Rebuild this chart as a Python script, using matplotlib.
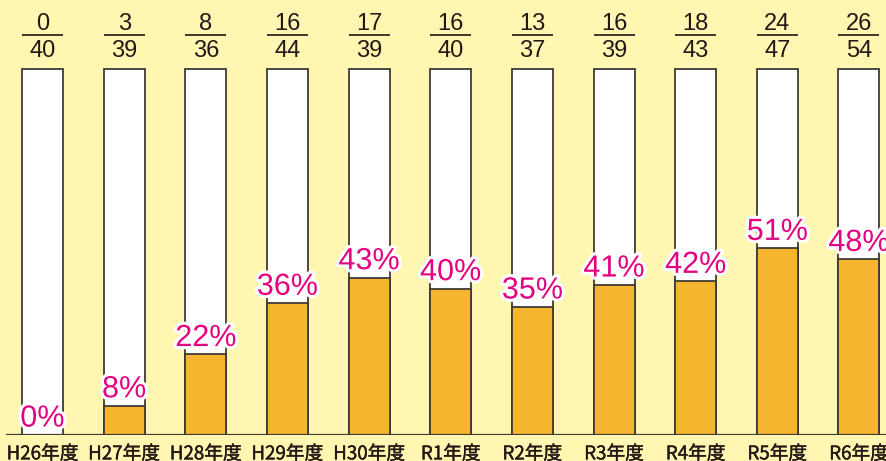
"""
Yearly ratio chart: white full-height columns, orange fill = share,
fraction (count / total) above each column.
"""
import matplotlib
matplotlib.use("Agg")
import matplotlib.pyplot as plt
import matplotlib.patheffects as pe

years = ["H26年度", "H27年度", "H28年度", "H29年度", "H30年度",
         "R1年度", "R2年度", "R3年度", "R4年度", "R5年度", "R6年度"]
numer = [0, 3, 8, 16, 17, 16, 13, 16, 18, 24, 26]
denom = [40, 39, 36, 44, 39, 40, 37, 39, 43, 47, 54]
pct = [0, 8, 22, 36, 43, 40, 35, 41, 42, 51, 48]

BG = "#fff7b1"
ORANGE = "#f6b52e"
MAGENTA = "#e4007f"
INK = "#231815"
EDGE = "#3f3a36"

W, H = 886, 461
fig = plt.figure(figsize=(W / 100, H / 100), dpi=100, facecolor=BG)
ax = fig.add_axes([0, 26 / H, 1, 435 / H])
ax.set_facecolor(BG)

x = list(range(len(years)))
bw = 0.502
ax.bar(x, [100] * len(x), width=bw, color="white", edgecolor=EDGE, lw=1.3, zorder=2)
ax.bar(x, pct, width=bw, color=ORANGE, edgecolor=EDGE, lw=1.3, zorder=3)

ax.set_xlim(-0.5205, 10.331)
ax.set_ylim(0, 118.85)
ax.axhline(0, xmin=0.008, xmax=1, color=EDGE, lw=1.6, zorder=4)

# fractions
for i, (n, d) in enumerate(zip(numer, denom)):
    ax.text(i, 112.4, str(n), ha="center", va="center", fontsize=17,
            color=INK, family="Liberation Sans")
    ax.text(i, 105.0, str(d), ha="center", va="center", fontsize=17,
            color=INK, family="Liberation Sans")
    ax.hlines(109.3, i - bw / 2, i + bw / 2, color=INK, lw=1.2)

# percent labels with white halo
for i, p in enumerate(pct):
    ax.text(i, p + 2.3, f"{p}%", ha="center", va="baseline", fontsize=22,
            color=MAGENTA, family="Liberation Sans", zorder=5,
            path_effects=[pe.withStroke(linewidth=4.5, foreground="white")])

ax.set_xticks(x)
ax.set_xticklabels(years, family=["Noto Sans CJK JP", "DejaVu Sans"],
                   fontsize=13.5, color=INK)
for t in ax.get_xticklabels():
    t.set_path_effects([pe.withStroke(linewidth=0.3, foreground=INK)])
ax.tick_params(axis="x", length=0, pad=6)
ax.set_yticks([])
for s in ax.spines.values():
    s.set_visible(False)

fig.savefig("out.png", dpi=100, facecolor=BG)
